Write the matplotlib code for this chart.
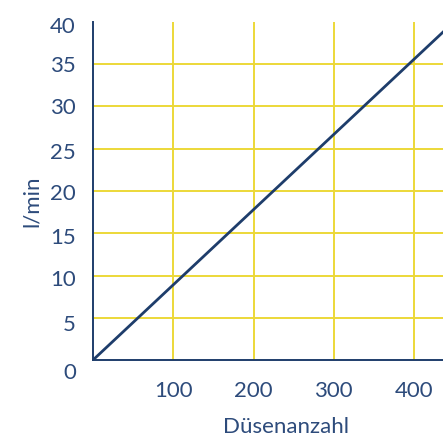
import matplotlib
matplotlib.use("Agg")
import matplotlib.pyplot as plt
from matplotlib.transforms import ScaledTranslation

nozzles = [0, 100, 200, 300, 400, 450]
flow = [0, 8.9, 17.8, 26.7, 35.6, 40.05]
x_ticks = [100, 200, 300, 400]
y_ticks = [0, 5, 10, 15, 20, 25, 30, 35, 40]
x_label = "Düsenanzahl"
y_label = "l/min"

navy = "#1e3d6b"
text_c = "#2d4b7b"
yellow = "#ecd838"

plt.rcParams['font.family'] = ['Lato', 'DejaVu Sans']
FS = 16

fig = plt.figure(figsize=(4.43, 4.38), dpi=100)
ax = fig.add_axes([93/443, 1-360/438, 1-93/443, (360-22)/438])

ax.set_xlim(0, 436)
ax.set_ylim(0, 40)

for xv in x_ticks:
    ax.axvline(xv, color=yellow, lw=1.4, zorder=1)
for yv in y_ticks[1:-1]:
    ax.axhline(yv, color=yellow, lw=1.4, zorder=1)

ax.plot(nozzles, flow, color=navy, lw=2.0, zorder=3, solid_capstyle='butt')

for s in ['top', 'right']:
    ax.spines[s].set_visible(False)
for s in ['left', 'bottom']:
    ax.spines[s].set_color(navy)
    ax.spines[s].set_linewidth(1.4)
    ax.spines[s].set_zorder(4)

ax.set_xticks(x_ticks)
ax.set_yticks(y_ticks)
ax.set_yticklabels([])
ax.tick_params(axis='both', length=0, labelsize=FS, colors=text_c)
ax.tick_params(axis='x', pad=15)

# y tick labels, slightly offset downward as in the reference
offsets_px = {0: -11, 5: -5, 10: -2, 15: -3, 20: -1, 25: -2, 30: 0, 35: 0, 40: -3}
ytrans = ax.get_yaxis_transform()
for v in y_ticks:
    off = offsets_px.get(v, 0)
    tr = ytrans + ScaledTranslation(-17 / 100, off / 100, fig.dpi_scale_trans)
    ax.text(0, v, str(v), transform=tr, ha='right', va='center_baseline',
            fontsize=FS, color=text_c, clip_on=False)

ax.set_xlabel(x_label, fontsize=FS, color=text_c)
ax.set_ylabel(y_label, fontsize=FS, color=text_c)
ax.xaxis.set_label_coords((286-93)/350, -(417-360)/338)
ax.yaxis.set_label_coords(-(93-42)/350, (360-201)/338)

fig.savefig("out.png", dpi=100)
